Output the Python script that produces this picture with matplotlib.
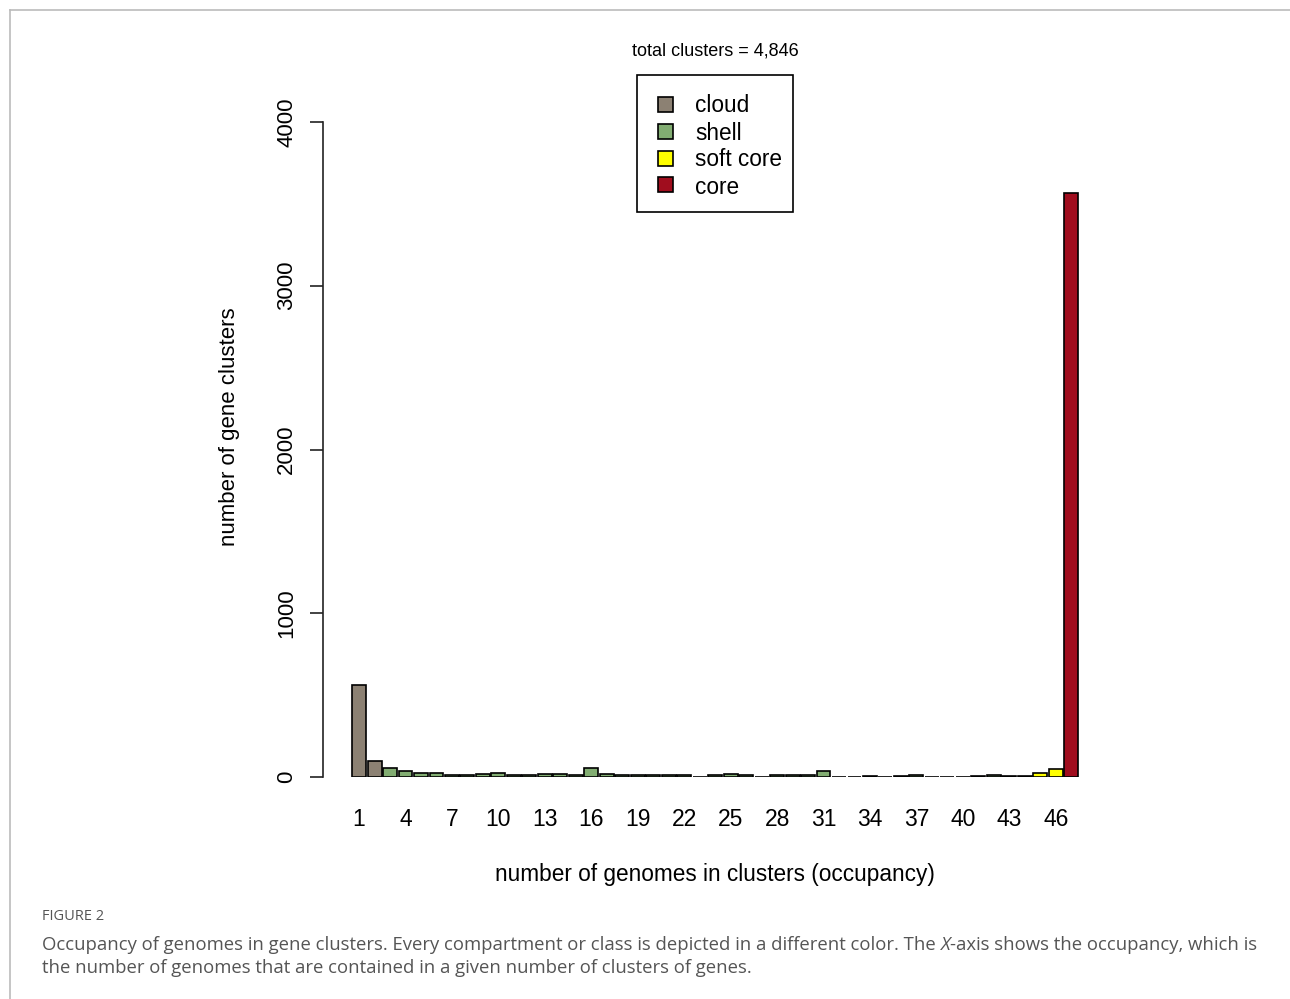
import matplotlib.pyplot as plt
from matplotlib.lines import Line2D
from matplotlib.patches import Rectangle

# occupancy (number of genomes) and number of clusters per occupancy
occupancy = list(range(1, 48))
counts = [560, 100, 52, 37, 25, 25, 12, 12, 17, 27,
          12, 12, 17, 17, 10, 57, 18, 10, 10, 10,
          10, 10, 2, 10, 18, 10, 2, 10, 10, 15,
          35, 2, 2, 8, 2, 8, 15, 2, 2, 2,
          8, 15, 8, 8, 27, 48, 3565]
classes = ["cloud"] * 2 + ["shell"] * 42 + ["soft core"] * 2 + ["core"]
class_names = ["cloud", "shell", "soft core", "core"]
class_colors = {"cloud": "#8c8173", "shell": "#82ad72", "soft core": "#ffff00", "core": "#a00d1e"}
xtick_values = list(range(1, 47, 3))
ytick_values = [0, 1000, 2000, 3000, 4000]

plt.rcParams['font.family'] = ['Liberation Sans', 'DejaVu Sans']

W, H = 1290, 999
fig = plt.figure(figsize=(12.9, 9.99), dpi=100)
ax = fig.add_axes([323/W, 1-777/H, 762/W, 655/H])

bar_colors = [class_colors[c] for c in classes]
ax.bar(occupancy, counts, width=0.9, color=bar_colors, edgecolor='black', linewidth=1.2)

ax.set_xlim(-1.33, 47.89)
ax.set_ylim(0, 4000)
for s in ['top', 'right', 'bottom']:
    ax.spines[s].set_visible(False)
ax.spines['left'].set_linewidth(1.2)
ax.spines['left'].set_color('#222222')

ax.set_yticks(ytick_values)
ax.set_yticklabels([str(v) for v in ytick_values], rotation=90, va='center', fontsize=16)
ax.tick_params(axis='y', length=9.5, width=1.2, pad=9, color='#222222')
ax.set_xticks(xtick_values)
ax.set_xticklabels([str(v) for v in xtick_values], fontsize=16.5)
ax.tick_params(axis='x', length=0, pad=22)

ax.set_xlabel("number of genomes in clusters (occupancy)", fontsize=16.3)
ax.xaxis.set_label_coords((715-323)/762, (777-874)/655)
ax.xaxis.label.set_va('center')
ax.set_ylabel("number of gene clusters", fontsize=16)
ax.yaxis.set_label_coords((230-323)/762, (777-427)/655)
ax.yaxis.label.set_va('center')

fig.text(715/W, 1-51/H, "total clusters = 4,846", ha='center', va='center', fontsize=13,
         family=['Liberation Sans Narrow', 'Liberation Sans', 'DejaVu Sans'])

# legend box drawn by hand to match the R legend layout
fig.add_artist(Rectangle((637/W, 1-212/H), 156/W, 137/H, transform=fig.transFigure,
                         facecolor='white', edgecolor='black', lw=1.2))
for i, name in enumerate(class_names):
    yc = 104 + 27*i
    fig.add_artist(Rectangle((658/W, 1-(yc+7.5)/H), 15/W, 15/H, transform=fig.transFigure,
                             facecolor=class_colors[name], edgecolor='black', lw=1.2))
    fig.text(695/W, 1-(yc+2)/H, name, fontsize=16.3, va='center', ha='left')

# page frame lines
fig.add_artist(Line2D([10/W, 1], [1-10/H, 1-10/H], color='#bbbbbb', lw=1.2))
fig.add_artist(Line2D([10/W, 10/W], [0, 1-10/H], color='#bbbbbb', lw=1.2))

# caption
cap = ['Open Sans', 'DejaVu Sans']
fs = 13.35
fig.text(42/W, 1-917/H, "FIGURE 2", fontsize=10.5, color='#555555', va='center', family=cap)
t1 = fig.text(42/W, 1-945/H,
              "Occupancy of genomes in gene clusters. Every compartment or class is depicted in a different color. The ",
              fontsize=fs, color='#555555', va='center', family=cap)
t2 = ax.annotate("X", xy=(1, 0), xycoords=t1, va='bottom', ha='left',
                 fontsize=fs, color='#555555', style='italic', family=cap, annotation_clip=False)
ax.annotate("-axis shows the occupancy, which is", xy=(1, 0), xycoords=t2, va='bottom', ha='left',
            fontsize=fs, color='#555555', family=cap, annotation_clip=False)
fig.text(42/W, 1-968/H,
         "the number of genomes that are contained in a given number of clusters of genes.",
         fontsize=fs, color='#555555', va='center', family=cap)

fig.savefig('out.png', dpi=100)
